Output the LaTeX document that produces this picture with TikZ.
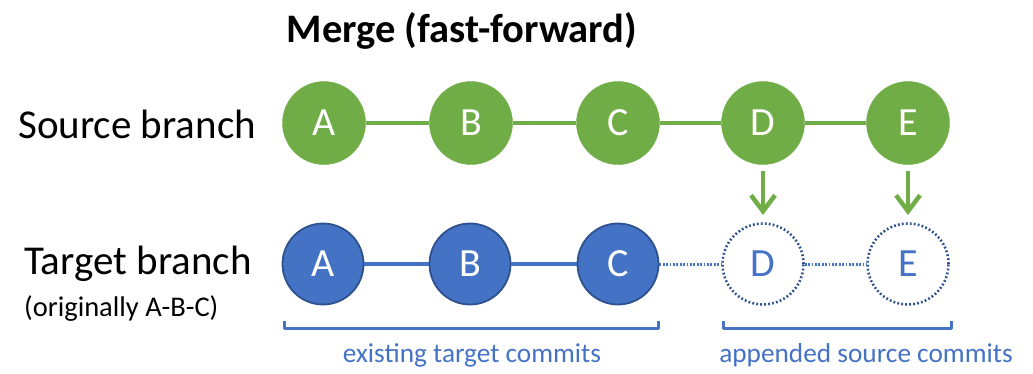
\documentclass[tikz,border=0pt]{standalone}
\usepackage{fontspec}
\setmainfont{Carlito}
\usetikzlibrary{arrows.meta}
\definecolor{grn}{HTML}{70AD47}
\definecolor{blu}{HTML}{4472C4}
\definecolor{dblu}{HTML}{2F528F}
\begin{document}
\begin{tikzpicture}[x=1pt,y=-1pt,
  src/.style={circle,minimum size=83pt,inner sep=0pt,fill=grn,draw=grn,text=white,font=\fontsize{40}{40}\selectfont},
  tgt/.style={circle,minimum size=81pt,inner sep=0pt,fill=blu,draw=dblu,line width=1.8pt,text=white,font=\fontsize{40}{40}\selectfont},
  ghost/.style={circle,minimum size=81pt,inner sep=0pt,draw=dblu,line width=2.6pt,dash pattern=on 1.8pt off 2.2pt,text=blu,font=\fontsize{40}{40}\selectfont},
  srcline/.style={grn,line width=4.5pt},
  tgtline/.style={blu,line width=4.5pt},
  dotline/.style={blu,line width=3pt,dash pattern=on 1.8pt off 1.6pt},
  push/.style={grn,line width=4.5pt,shorten <=6pt,-{Straight Barb[length=16pt,width=24pt,line width=4.5pt]}},
  brack/.style={blu,line width=3pt,line join=round},
  lbl/.style={anchor=west,inner sep=0pt,font=\fontsize{41}{41}\selectfont},
  note/.style={inner sep=0pt,text=blu,font=\fontsize{27.3}{27.3}\selectfont}]
\useasboundingbox (0,0) rectangle (1033,373);
\node[inner sep=0pt,font=\bfseries\fontsize{40.5}{40.5}\selectfont] (title) at (462,31) {Merge (fast-forward)};
\node[lbl] (slbl) at (18,124) {Source branch};
\node[lbl] (tlbl) at (24,264) {Target branch};
\node[lbl,font=\fontsize{28.5}{28.5}\selectfont] (orig) at (24,309) {(originally A-B-C)};
% source row
\node[src] (sA) at (324,123) {A};
\node[src] (sB) at (471,123) {B};
\node[src] (sC) at (618,123) {C};
\node[src] (sD) at (763,123) {D};
\node[src] (sE) at (908,123) {E};
% target row
\node[tgt] (tA) at (323,264) {A};
\node[tgt] (tB) at (470,264) {B};
\node[tgt] (tC) at (618,264) {C};
\node[ghost] (tD) at (763,264) {D};
\node[ghost] (tE) at (908,264) {E};
\draw[srcline] (sA) -- (sB);
\draw[srcline] (sB) -- (sC);
\draw[srcline] (sC) -- (sD);
\draw[srcline] (sD) -- (sE);
\draw[tgtline] (tA) -- (tB);
\draw[tgtline] (tB) -- (tC);
\draw[dotline] (tC) -- (tD);
\draw[dotline] (tD) -- (tE);
\coordinate (aD) at (763,215);
\coordinate (aE) at (908,215);
\draw[push] (sD) -- (aD);
\draw[push] (sE) -- (aE);
% brackets
\coordinate (b1l) at (284,321);
\coordinate (b1r) at (658,321);
\coordinate (b2l) at (723,321);
\coordinate (b2r) at (951,321);
\draw[brack] (b1l) -- ++(0,7) -| (b1r);
\draw[brack] (b2l) -- ++(0,7) -| (b2r);
\node[note] (n1) at (472,355) {existing target commits};
\node[note] (n2) at (866,355) {appended source commits};
\end{tikzpicture}
\end{document}
